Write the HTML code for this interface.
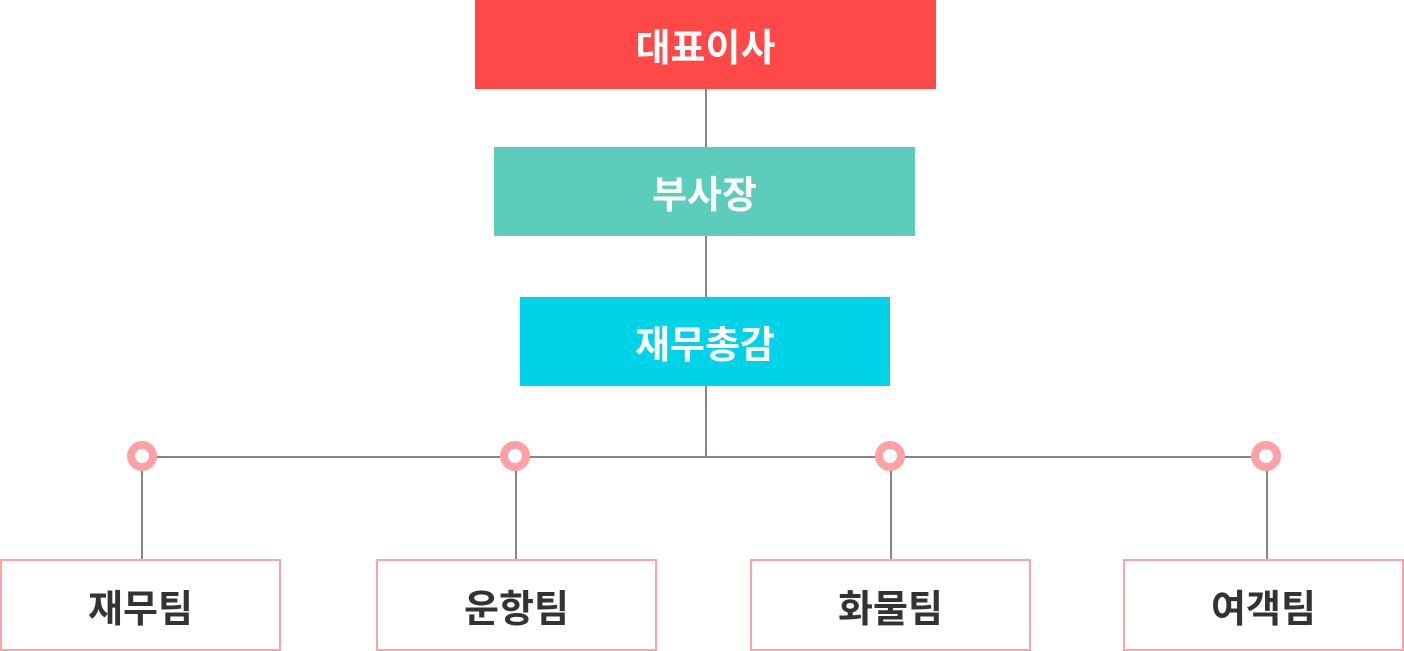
<!DOCTYPE html>
<html><head><meta charset="utf-8"><style>
html,body{margin:0;padding:0;background:#fff;width:1404px;height:651px;overflow:hidden;position:relative;font-family:"Liberation Sans","Noto Sans CJK KR",sans-serif;}
.b{position:absolute;display:flex;align-items:center;justify-content:center;font-weight:bold;font-size:38px;box-sizing:border-box;}
.top{color:#fff;}
.bot{border:2px solid #ffa3aa;color:#333;background:#fff;top:559px;height:92px;width:281px;}
.l{position:absolute;background:#8a8482;}
.c{position:absolute;width:14px;height:14px;border:8px solid #ffa0a6;border-radius:50%;background:#fff;top:441px;}
</style></head><body>
<div class="l" style="left:705px;top:89px;width:1.5px;height:368px"></div>
<div class="l" style="left:142px;top:456px;width:1124px;height:1.5px"></div>
<div class="l" style="left:141px;top:456px;width:1.5px;height:104px"></div>
<div class="l" style="left:515px;top:456px;width:1.5px;height:104px"></div>
<div class="l" style="left:890px;top:456px;width:1.5px;height:104px"></div>
<div class="l" style="left:1266px;top:456px;width:1.5px;height:104px"></div>
<div class="b top" style="left:475px;top:0;width:461px;height:89px;background:#ff4848">대표이사</div>
<div class="b top" style="left:494px;top:147px;width:421px;height:89px;background:#5ccdbd">부사장</div>
<div class="b top" style="left:520px;top:297px;width:370px;height:89px;background:#00d3e8">재무총감</div>
<div class="c" style="left:127px"></div>
<div class="c" style="left:500px"></div>
<div class="c" style="left:875px"></div>
<div class="c" style="left:1251px"></div>
<div class="b bot" style="left:0">재무팀</div>
<div class="b bot" style="left:376px">운항팀</div>
<div class="b bot" style="left:750px">화물팀</div>
<div class="b bot" style="left:1123px">여객팀</div>
</body></html>
